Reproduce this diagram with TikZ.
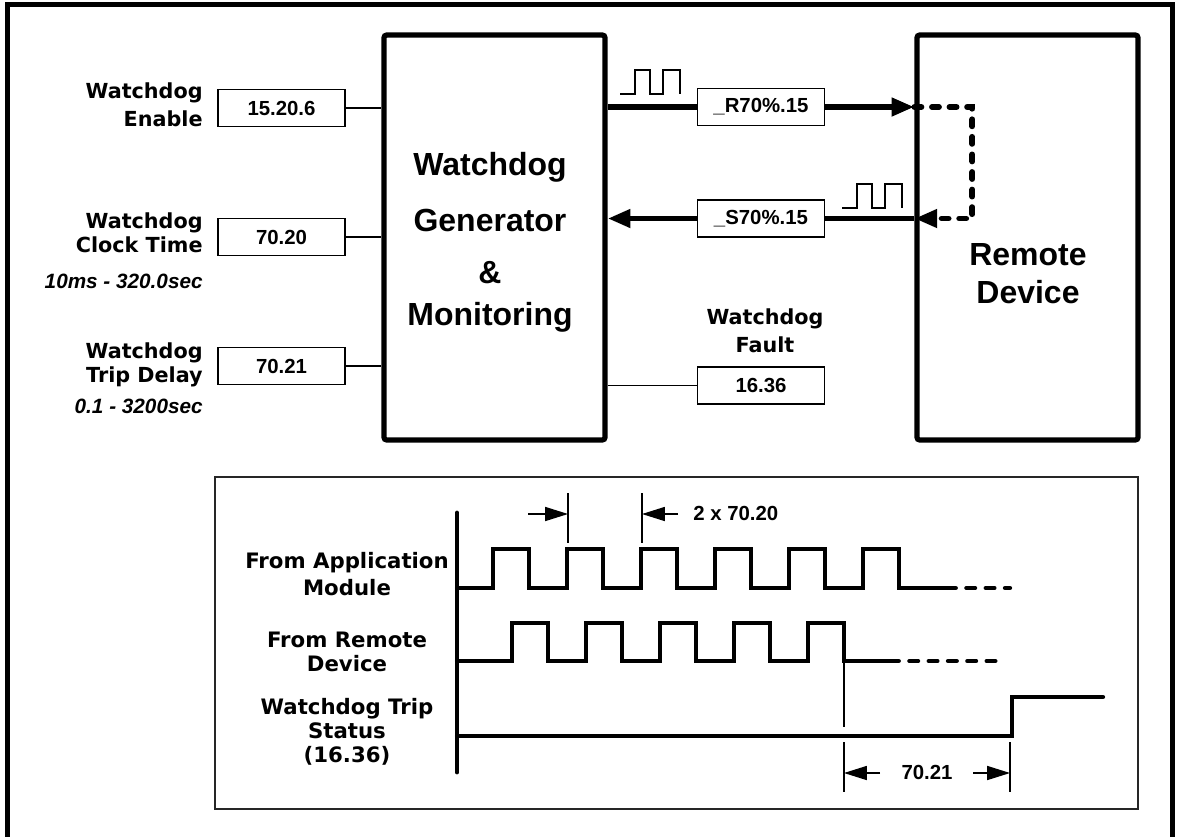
\documentclass[tikz,border=0pt]{standalone}
\usepackage{fontspec}
\newfontfamily\arialfont{Liberation Sans}
\newfontfamily\verdfont{DejaVu Sans}
\usetikzlibrary{arrows.meta}
\newcommand{\blip}[1]{\draw[wave] #1 -- ++(15,0) -- ++(0,-24) -- ++(15,0) -- ++(0,24) -- ++(13,0) -- ++(0,-24) -- ++(17,0) -- ++(0,24);}

\begin{document}
\begin{tikzpicture}[x=0.02cm,y=-0.02cm,
  outerframe/.style={line width=3.4pt},
  bigbox/.style={draw,line width=3pt,rounded corners=1.5pt,minimum width=4.42cm,minimum height=8.1cm,inner sep=0pt},
  valbox/.style={draw,line width=0.9pt,minimum width=2.54cm,minimum height=0.74cm,inner sep=0pt,font={\arialfont\bfseries\fontsize{11.6}{14}\selectfont}},
  numtxt/.style={inner sep=0pt,font={\arialfont\bfseries\fontsize{11.6}{14}\selectfont}},
  lbl/.style={inner sep=0pt,font={\verdfont\bfseries\fontsize{11.8}{13.6}\selectfont}},
  tlbl/.style={inner sep=0pt,align=center,font={\verdfont\bfseries\fontsize{12.1}{13.6}\selectfont}},
  rng/.style={inner sep=0pt,anchor=east,font={\arialfont\bfseries\itshape\fontsize{11.8}{14}\selectfont}},
  bigtxt/.style={inner sep=0pt,align=center,font={\arialfont\bfseries\fontsize{18.2}{21.5}\selectfont}},
  link/.style={line width=0.9pt},
  bus/.style={line width=3.3pt},
  headr/.style={-{Triangle[length=13pt,width=10pt]}},
  loopline/.style={line width=3.3pt,line cap=round,dash pattern=on 4pt off 6pt},
  wave/.style={line width=0.8pt},
  sig/.style={line width=2.4pt,line cap=round},
  sigtail/.style={line width=2.4pt,line cap=round,dash pattern=on 5pt off 6pt},
  dimline/.style={line width=0.7pt},
  dimhead/.style={-{Triangle[length=13pt,width=8pt]}}]
\useasboundingbox (0,0) rectangle (1177,836);
\draw[outerframe] (7.5,850) -- (7.5,4.5) -- (1172.5,4.5) -- (1172.5,850);

\node[bigbox] (gen) at (494.5,237.5) {};
\node[bigbox] (remote) at (1027.5,237.5) {};
\node[bigtxt] (gentxt) at (490,242) {Watchdog\\[10.8pt]Generator\\[8pt]\&\\[2.3pt]Monitoring};
\node[bigtxt] (remtxt) at (1028,274) {Remote\\Device};

\node[valbox] (en) at (281.5,108) {15.20.6};
\node[lbl,align=right,anchor=east] (enl) at (203,105) {Watchdog\\[2.4pt]Enable};
\node[valbox] (clk) at (281.5,237) {70.20};
\node[lbl,align=right,anchor=east] (clkl) at (203,233) {Watchdog\\Clock Time};
\node[rng] (clkr) at (203,281) {10ms - 320.0sec};
\node[valbox] (trp) at (281.5,366) {70.21};
\node[lbl,align=right,anchor=east] (trpl) at (203,365) {Watchdog\\Trip Delay};
\node[rng] (trpr) at (203,406) {0.1 - 3200sec};

\node[valbox] (rx) at (761,107) {\_R70\%.15};
\node[valbox] (sx) at (761,218.5) {\_S70\%.15};
\node[valbox] (flt) at (761,385.5) {16.36};
\node[lbl,align=center] (fltl) at (765,331) {Watchdog\\[2.4pt]Fault};

\draw[link] (en.east) -- (gen.west |- en.east);
\draw[link] (clk.east) -- (gen.west |- clk.east);
\draw[link] (trp.east) -- (gen.west |- trp.east);
\draw[link] (gen.east |- flt.west) -- (flt.west);
\draw[bus] (gen.east |- rx.west) -- (rx.west);
\draw[bus,headr] (rx.east) -- (remote.west |- rx.east);
\draw[bus,headr] (sx.west) -- (gen.east |- sx.west);
\draw[bus] (sx.east) -- (remote.west |- sx.east);
\draw[loopline,headr] (remote.west |- rx.east) -- ++(58,0) |- (remote.west |- sx.east);
\blip{(620,94)}
\blip{(842,208)}

\draw[line width=1.1pt,black!85] (215,477) rectangle (1138,809);
\draw[line width=2.8pt,line cap=round] (457,513) -- (457,772);
\draw[sig] (457,588) foreach \k in {0,...,5} { -- ({493+74*\k},588) -- ({493+74*\k},549) -- ({529+74*\k},549) -- ({529+74*\k},588) } -- (947,588);
\draw[sigtail] (947,588) -- (1010,588);
\draw[sig] (457,661) foreach \k in {0,...,4} { -- ({512+74*\k},661) -- ({512+74*\k},623) -- ({548+74*\k},623) -- ({548+74*\k},661) } -- (890,661);
\draw[sigtail] (890,661) -- (1005,661);
\draw[sig] (457,736) -- (1012,736) -- (1012,697) -- (1103,697);

\node[tlbl] (appl) at (347,574) {From Application\\[1.7pt]Module};
\node[tlbl] (reml) at (347,652) {From Remote\\Device};
\node[tlbl] (tripl) at (347,732) {Watchdog Trip\\Status\\(16.36)};

\draw[dimline] (568,493) -- (568,543);
\draw[dimline] (642,493) -- (642,543);
\draw[dimline,dimhead] (528,514) -- (568,514);
\draw[dimline,dimhead] (678,514) -- (642,514);
\node[numtxt,anchor=west] (twice) at (693,513) {2 x 70.20};
\draw[dimline] (844,661) -- (844,727);
\draw[dimline] (844,742) -- (844,792);
\draw[dimline] (1010,742) -- (1010,792);
\draw[dimline,dimhead] (880,773) -- (844,773);
\draw[dimline,dimhead] (973,773) -- (1010,773);
\node[numtxt] (dly) at (927,772) {70.21};
\end{tikzpicture}
\end{document}
